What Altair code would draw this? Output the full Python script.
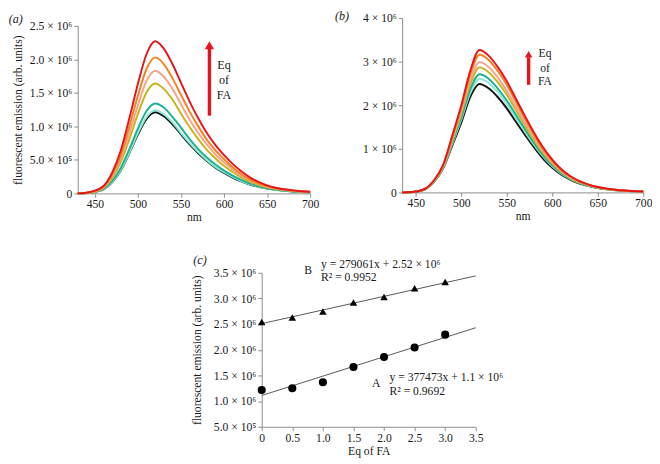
import altair as alt
import pandas as pd

SERIF = "Liberation Serif"
TXT = "#1a1a1a"

# ---------------- shared series (equivalents of FA) ----------------
series_names = ["0", "0.5", "1.0", "1.5", "2.0", "2.5", "3.0"]
series_colors = ["#141414", "#8be9d8", "#1cb193", "#c6b41c", "#f7a28a", "#f4811f", "#e4161c"]

# ---------------- panel (a): spectra, values in 10^6 arb. units ----------------
nm_a = [430, 440, 450, 460, 470, 480, 490, 500, 510, 520, 530, 540, 550, 560,
        570, 580, 590, 600, 610, 620, 630, 640, 650, 660, 670, 680, 690, 700]
a_eq0 = [0, 0.005, 0.021, 0.058, 0.165, 0.34, 0.60, 0.88, 1.11, 1.21, 1.15, 1.03, 0.88, 0.73,
         0.60, 0.485, 0.385, 0.305, 0.235, 0.178, 0.132, 0.097, 0.071, 0.053, 0.039, 0.029, 0.021, 0.015]
a_eq05 = [0, 0.005, 0.022, 0.06, 0.17, 0.35, 0.61, 0.90, 1.14, 1.24, 1.18, 1.06, 0.90, 0.75,
          0.615, 0.495, 0.395, 0.315, 0.245, 0.185, 0.137, 0.10, 0.073, 0.054, 0.04, 0.03, 0.022, 0.016]
a_eq10 = [0, 0.006, 0.024, 0.065, 0.185, 0.38, 0.66, 0.97, 1.23, 1.34, 1.28, 1.14, 0.98, 0.81,
          0.66, 0.535, 0.43, 0.34, 0.265, 0.20, 0.147, 0.106, 0.077, 0.057, 0.042, 0.031, 0.023, 0.017]
a_eq15 = [0, 0.007, 0.029, 0.08, 0.225, 0.465, 0.81, 1.19, 1.51, 1.64, 1.56, 1.40, 1.19, 0.99,
          0.81, 0.65, 0.52, 0.41, 0.32, 0.24, 0.175, 0.126, 0.091, 0.066, 0.049, 0.036, 0.027, 0.019]
a_eq20 = [0, 0.008, 0.032, 0.088, 0.25, 0.52, 0.90, 1.32, 1.68, 1.83, 1.74, 1.56, 1.33, 1.10,
          0.90, 0.73, 0.58, 0.46, 0.355, 0.265, 0.193, 0.138, 0.099, 0.072, 0.053, 0.039, 0.029, 0.021]
a_eq25 = [0, 0.009, 0.035, 0.097, 0.275, 0.57, 1.00, 1.46, 1.86, 2.03, 1.93, 1.72, 1.47, 1.22,
          1.00, 0.80, 0.64, 0.51, 0.39, 0.29, 0.21, 0.15, 0.107, 0.077, 0.057, 0.042, 0.031, 0.022]
a_eq30 = [0, 0.01, 0.04, 0.11, 0.31, 0.64, 1.12, 1.64, 2.08, 2.27, 2.16, 1.93, 1.65, 1.37,
          1.12, 0.90, 0.72, 0.57, 0.44, 0.33, 0.24, 0.17, 0.12, 0.085, 0.062, 0.045, 0.033, 0.024]
a_yticks = [0, 0.5, 1.0, 1.5, 2.0, 2.5]
a_ylabels = ["0", "5.0 × 10⁵", "1.0 × 10⁶", "1.5 × 10⁶", "2.0 × 10⁶", "2.5 × 10⁶"]
a_xticks = [450, 500, 550, 600, 650, 700]

# ---------------- panel (b) ----------------
nm_b = [435, 440, 450, 460, 470, 480, 490, 500, 510, 520, 530, 540, 550, 560,
        570, 580, 590, 600, 610, 620, 630, 640, 650, 660, 670, 680, 690, 700]
b_eq0 = [0, 0.003, 0.016, 0.065, 0.24, 0.55, 1.07, 1.60, 2.20, 2.49, 2.39, 2.19, 1.93, 1.62,
         1.32, 1.03, 0.77, 0.565, 0.405, 0.29, 0.205, 0.145, 0.103, 0.072, 0.051, 0.036, 0.025, 0.017]
b_eq05 = [0, 0.003, 0.017, 0.068, 0.245, 0.56, 1.11, 1.67, 2.29, 2.61, 2.51, 2.30, 2.03, 1.71,
          1.39, 1.09, 0.82, 0.60, 0.43, 0.305, 0.215, 0.152, 0.107, 0.075, 0.053, 0.037, 0.026, 0.018]
b_eq10 = [0, 0.003, 0.017, 0.07, 0.25, 0.57, 1.14, 1.72, 2.37, 2.71, 2.61, 2.39, 2.11, 1.78,
          1.45, 1.13, 0.85, 0.625, 0.445, 0.315, 0.222, 0.157, 0.11, 0.077, 0.054, 0.038, 0.027, 0.018]
b_eq15 = [0, 0.003, 0.018, 0.072, 0.255, 0.58, 1.18, 1.80, 2.49, 2.87, 2.76, 2.53, 2.24, 1.89,
          1.53, 1.20, 0.90, 0.66, 0.47, 0.33, 0.232, 0.163, 0.114, 0.08, 0.056, 0.039, 0.028, 0.019]
b_eq20 = [0, 0.003, 0.018, 0.074, 0.26, 0.59, 1.21, 1.86, 2.58, 2.99, 2.88, 2.64, 2.33, 1.97,
          1.60, 1.25, 0.94, 0.685, 0.485, 0.34, 0.24, 0.168, 0.117, 0.082, 0.057, 0.04, 0.028, 0.019]
b_eq25 = [0, 0.003, 0.019, 0.077, 0.27, 0.61, 1.26, 1.94, 2.71, 3.16, 3.04, 2.79, 2.47, 2.08,
          1.69, 1.32, 0.99, 0.72, 0.51, 0.36, 0.25, 0.175, 0.122, 0.085, 0.059, 0.041, 0.029, 0.02]
b_eq30 = [0, 0.003, 0.02, 0.08, 0.28, 0.63, 1.30, 2.00, 2.80, 3.27, 3.14, 2.88, 2.55, 2.15,
          1.75, 1.37, 1.03, 0.75, 0.53, 0.37, 0.26, 0.18, 0.125, 0.087, 0.06, 0.042, 0.03, 0.02]
b_yticks = [0, 1, 2, 3, 4]
b_ylabels = ["0", "1 × 10⁶", "2 × 10⁶", "3 × 10⁶", "4 × 10⁶"]
b_xticks = [450, 500, 550, 600, 650, 700]

# ---------------- panel (c): peak intensity vs Eq of FA ----------------
eq_fa = [0, 0.5, 1.0, 1.5, 2.0, 2.5, 3.0]
peak_A = [1.217, 1.25, 1.368, 1.664, 1.86, 2.045, 2.295]
peak_B = [2.54, 2.63, 2.745, 2.92, 3.03, 3.20, 3.32]
fit_x = [0, 3.5]
fit_A = [1.11, 2.43]
fit_B = [2.51, 3.44]
c_xticks = [0, 0.5, 1.0, 1.5, 2.0, 2.5, 3.0, 3.5]
c_xlabels = ["0", "0.5", "1.0", "1.5", "2.0", "2.5", "3.0", "3.5"]
c_yticks = [0.5, 1.0, 1.5, 2.0, 2.5, 3.0, 3.5]
c_ylabels = ["5.0 × 10⁵", "1.0 × 10⁶", "1.5 × 10⁶", "2.0 × 10⁶", "2.5 × 10⁶", "3.0 × 10⁶", "3.5 × 10⁶"]

# annotation texts / anchors (data coordinates)
arrow_text = ["Eq", "of", "FA"]
a_arrow = dict(x=583, y1=1.16, y2=2.16, head=2.21)
a_text_x, a_text_y = 600, [1.91, 1.69, 1.47]
b_arrow = dict(x=574, y1=2.47, y2=3.10, head=3.17)
b_text_x, b_text_y = 592, [3.19, 2.86, 2.55]
panel_tags = ["(a)", "(b)", "(c)"]
tag_pos = [(358, 2.6), (369, 4.05), (-1.01, 3.745)]
c_notes = ["B", "A"]
c_note_pos = [(0.76, 3.56), (1.87, 1.36)]
c_eqs = ["y = 279061x + 2.52 × 10⁶", "R² = 0.9952", "y = 377473x + 1.1 × 10⁶", "R² = 0.9692"]
c_eq_pos = [(0.97, 3.66), (0.97, 3.41), (2.09, 1.475), (2.09, 1.204)]


def label_expr(vals, labels):
    parts = [f"abs(datum.value - {v}) < 1e-9 ? '{l}'" for v, l in zip(vals, labels)]
    return " : ".join(parts) + " : ''"


def axis(vals, labels=None, **kw):
    args = dict(values=vals, tickCount=len(vals) + 5, labelOverlap=False)
    if labels is not None:
        args["labelExpr"] = label_expr(vals, labels)
    args.update(kw)
    return alt.Axis(**args)


def long_df(nm, curves):
    rows = []
    for name, vals in zip(series_names, curves):
        for x, v in zip(nm, vals):
            rows.append({"nm": x, "value": v, "series": name})
    return pd.DataFrame(rows)


color = alt.Color("series:N", scale=alt.Scale(domain=series_names, range=series_colors), legend=None)


def spectra_panel(nm, curves, xdom, ydom, yrange, yticks, ylabels, xticks, ytitle, tpad,
                  arrow, tx, ty, tag, tagxy, width, height, head_size, wsize):
    df = long_df(nm, curves)
    xs = alt.Scale(domain=xdom, nice=False, zero=False)
    ys = alt.Scale(domain=ydom, range=yrange, nice=False)
    xax = axis(xticks, None, title="nm", titlePadding=2)
    yax = axis(yticks, ylabels, title=ytitle, titlePadding=tpad)
    lines = alt.Chart(df).mark_line(strokeWidth=2, interpolate="monotone").encode(
        x=alt.X("nm:Q", scale=xs, axis=xax),
        y=alt.Y("value:Q", scale=ys, axis=yax),
        color=color,
        order=alt.Order("series:N"),
    )
    adf = pd.DataFrame([{"x": arrow["x"], "y1": arrow["y1"], "y2": arrow["y2"], "head": arrow["head"]}])
    shaft = alt.Chart(adf).mark_rule(color="#e8131d", strokeWidth=3.5).encode(
        x=alt.X("x:Q", scale=xs), y=alt.Y("y1:Q", scale=ys), y2="y2:Q")
    head = alt.Chart(adf).mark_point(shape="triangle-up", filled=True, color="#e8131d",
                                     size=head_size, opacity=1).encode(
        x=alt.X("x:Q", scale=xs), y=alt.Y("head:Q", scale=ys))
    tdf = pd.DataFrame({"x": [tx] * 3, "y": ty, "t": arrow_text})
    words = alt.Chart(tdf).mark_text(font=SERIF, fontSize=wsize, color=TXT, align="center",
                                     baseline="middle").encode(
        x=alt.X("x:Q", scale=xs), y=alt.Y("y:Q", scale=ys), text="t:N")
    tagdf = pd.DataFrame({"x": [tagxy[0]], "y": [tagxy[1]], "t": [tag]})
    tagm = alt.Chart(tagdf).mark_text(font=SERIF, fontSize=12.5, fontStyle="italic", color=TXT,
                                      align="center", baseline="middle").encode(
        x=alt.X("x:Q", scale=xs), y=alt.Y("y:Q", scale=ys), text="t:N")
    return alt.layer(lines, shaft, head, words, tagm).properties(width=width, height=height)


panel_a = spectra_panel(nm_a, [a_eq0, a_eq05, a_eq10, a_eq15, a_eq20, a_eq25, a_eq30],
                        [430, 700], [0, 2.5], [181, 8], a_yticks, a_ylabels, a_xticks,
                        "fluorescent emission (arb. units)", 5, a_arrow, a_text_x, a_text_y,
                        panel_tags[0], tag_pos[0], 240, 181, 90, 12.5)
panel_b = spectra_panel(nm_b, [b_eq0, b_eq05, b_eq10, b_eq15, b_eq20, b_eq25, b_eq30],
                        [435, 700], [0, 4], [180, 0], b_yticks, b_ylabels, b_xticks,
                        None, 5, b_arrow, b_text_x, b_text_y,
                        panel_tags[1], tag_pos[1], 249, 180, 60, 12)

# ---- panel c ----
cxs = alt.Scale(domain=[0, 3.5], nice=False, zero=False)
cys = alt.Scale(domain=[0.5, 3.5], nice=False, zero=False)
cxax = axis(c_xticks, c_xlabels, title="Eq of FA", titlePadding=3)
cyax = axis(c_yticks, c_ylabels, title="fluorescent emission (arb. units)", titlePadding=10)
fdf = pd.DataFrame({"x": fit_x + fit_x, "y": fit_A + fit_B, "s": ["A", "A", "B", "B"]})
fits = alt.Chart(fdf).mark_line(color="#555555", strokeWidth=1).encode(
    x=alt.X("x:Q", scale=cxs, axis=cxax), y=alt.Y("y:Q", scale=cys, axis=cyax), detail="s:N")
pa = alt.Chart(pd.DataFrame({"x": eq_fa, "y": peak_A})).mark_point(
    shape="circle", filled=True, color="#000000", size=70, opacity=1).encode(
    x=alt.X("x:Q", scale=cxs), y=alt.Y("y:Q", scale=cys))
pb = alt.Chart(pd.DataFrame({"x": eq_fa, "y": peak_B})).mark_point(
    shape="triangle-up", filled=True, color="#000000", size=60, opacity=1).encode(
    x=alt.X("x:Q", scale=cxs), y=alt.Y("y:Q", scale=cys))
ndf = pd.DataFrame({"x": [p[0] for p in c_note_pos], "y": [p[1] for p in c_note_pos], "t": c_notes})
notes = alt.Chart(ndf).mark_text(font=SERIF, fontSize=12, color=TXT, align="center", baseline="middle").encode(
    x=alt.X("x:Q", scale=cxs), y=alt.Y("y:Q", scale=cys), text="t:N")
edf = pd.DataFrame({"x": [p[0] for p in c_eq_pos], "y": [p[1] for p in c_eq_pos], "t": c_eqs})
eqs = alt.Chart(edf).mark_text(font=SERIF, fontSize=12, color=TXT, align="left", baseline="middle").encode(
    x=alt.X("x:Q", scale=cxs), y=alt.Y("y:Q", scale=cys), text="t:N")
ctag = alt.Chart(pd.DataFrame({"x": [tag_pos[2][0]], "y": [tag_pos[2][1]], "t": [panel_tags[2]]})).mark_text(
    font=SERIF, fontSize=12.5, fontStyle="italic", color=TXT, align="center", baseline="middle").encode(
    x=alt.X("x:Q", scale=cxs), y=alt.Y("y:Q", scale=cys), text="t:N")
panel_c = alt.layer(fits, pa, pb, notes, eqs, ctag).properties(width=221, height=159)

spacer = alt.Chart(pd.DataFrame({"v": [0]})).mark_point(size=0, opacity=0).encode(
    x=alt.value(0), y=alt.value(0)).properties(width=117, height=10)

top = alt.hconcat(panel_a, panel_b, spacing=16)
bottom = alt.hconcat(spacer, panel_c, spacing=0)
chart = alt.vconcat(top, bottom, spacing=33).properties(
    padding={"left": 0, "top": -6, "right": 0, "bottom": 0}
).configure_view(stroke=None).configure_axis(
    domainColor="#8a8a8a", tickColor="#8a8a8a", tickSize=4, labelFont=SERIF, labelFontSize=12,
    labelColor=TXT, titleFont=SERIF, titleFontSize=12, titleFontWeight="normal", titleColor=TXT,
    grid=False, labelPadding=2, labelOverlap=False, labelBound=False, labelFlush=False,
)

chart.save("out.html", embed_options={"renderer": "svg", "actions": False})
